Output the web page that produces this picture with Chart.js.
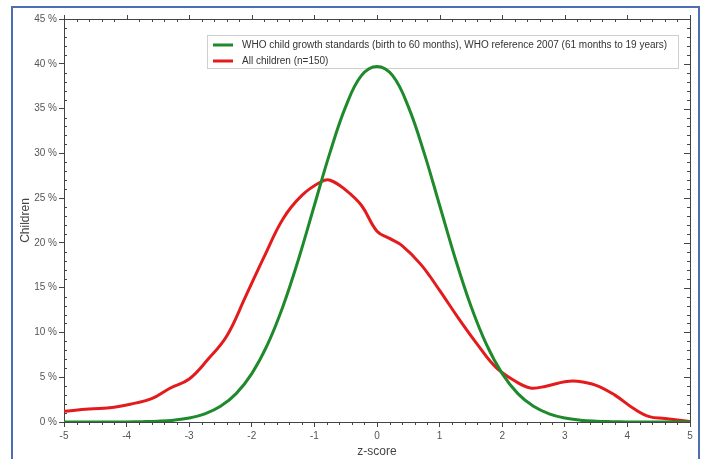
<!DOCTYPE html>
<html>
<head>
<meta charset="utf-8">
<script src="https://cdn.jsdelivr.net/npm/chart.js@4.4.0/dist/chart.umd.min.js"></script>
<style>
html, body { margin: 0; background: #fff; overflow: hidden; }
#frame { position: absolute; left: 11px; top: 6px; width: 685px; height: 480px; border: 2px solid #4d6eb3; }
#wrap { position: absolute; left: 0; top: 0; width: 706px; height: 459px; }
</style>
</head>
<body>
<div id="frame"></div>
<div id="wrap"><canvas id="chart" width="706" height="459"></canvas></div>
<script>
// Reference curve (WHO), read every 0.25 z
const whoZ = [-5, -4.75, -4.5, -4.25, -4, -3.75, -3.5, -3.25, -3, -2.75, -2.5, -2.25, -2, -1.75, -1.5, -1.25, -1, -0.75, -0.5, -0.25,
              0, 0.25, 0.5, 0.75, 1, 1.25, 1.5, 1.75, 2, 2.25, 2.5, 2.75, 3, 3.25, 3.5, 3.75, 4, 4.25, 4.5, 4.75, 5];
const whoValues = [0, 0, 0, 0, 0.01, 0.04, 0.09, 0.2, 0.44, 0.91, 1.75, 3.17, 5.4, 8.63, 12.95, 18.26, 24.2, 30.11, 35.21, 38.67,
                   39.7, 38.67, 35.21, 30.11, 24.2, 18.26, 12.95, 8.63, 5.4, 3.17, 1.75, 0.91, 0.44, 0.2, 0.09, 0.04, 0.01, 0, 0, 0, 0];

// All children (n=150)
const childZ = [-5, -4.6, -4.2, -3.9, -3.6, -3.3, -3, -2.7, -2.4, -2.1, -1.8, -1.5, -1.2, -0.9, -0.75, -0.5, -0.25,
                0, 0.2, 0.4, 0.7, 1, 1.3, 1.6, 1.9, 2.2, 2.45, 2.7, 3, 3.2, 3.5, 3.8, 4.1, 4.35, 4.6, 5];
const childValues = [1.2, 1.45, 1.65, 2.05, 2.6, 3.8, 4.8, 7.0, 9.6, 14.0, 18.5, 22.7, 25.3, 26.8, 27.0, 25.9, 24.2,
                     21.3, 20.5, 19.7, 17.6, 14.7, 11.6, 8.7, 6.1, 4.6, 3.8, 4.0, 4.5, 4.55, 4.1, 3.0, 1.5, 0.6, 0.4, 0.05];

const seriesLabels = [
    'WHO child growth standards (birth to 60 months), WHO reference 2007 (61 months to 19 years)',
    'All children (n=150)'
];
const xTicks = [-5, -4, -3, -2, -1, 0, 1, 2, 3, 4, 5];
const yTicks = [0, 5, 10, 15, 20, 25, 30, 35, 40, 45];

const toPoints = (xs, ys) => xs.map((v, i) => ({ x: v, y: ys[i] }));

// box round the plot, minor ticks, ticks on top and right, legend box
const frameTicks = {
    id: 'frameTicks',
    beforeDatasetsDraw(chart) {
        const { ctx, chartArea: a, scales: { x, y } } = chart;
        ctx.save();
        ctx.strokeStyle = '#444';
        ctx.lineWidth = 1;
        ctx.strokeRect(a.left + 0.5, a.top + 0.5, a.right - a.left, a.bottom - a.top);
        ctx.beginPath();
        for (let i = 0; i <= 50; i++) {
            const px = Math.round(x.getPixelForValue(xTicks[0] + i * 0.2)) + 0.5;
            const major = i % 5 === 0;
            ctx.moveTo(px, a.bottom);
            ctx.lineTo(px, a.bottom + (major ? 0 : 3));
            ctx.moveTo(px, a.top);
            ctx.lineTo(px, major ? a.top - 4 : a.top + 3);
        }
        for (let i = 0; i <= 45; i++) {
            const py = Math.round(y.getPixelForValue(i)) + 0.5;
            const major = i % 5 === 0;
            ctx.moveTo(a.left, py);
            ctx.lineTo(a.left + (major ? 0 : 3), py);
            ctx.moveTo(a.right, py);
            ctx.lineTo(a.right - (major ? 6 : 3), py);
        }
        ctx.stroke();

        // legend
        const box = { left: 207, top: 35, right: 678, bottom: 68 };
        ctx.strokeStyle = '#cfcfcf';
        ctx.strokeRect(box.left + 0.5, box.top + 0.5, box.right - box.left, box.bottom - box.top);
        ctx.font = '10px "Liberation Sans", Arial, sans-serif';
        ctx.textBaseline = 'middle';
        chart.data.datasets.forEach((ds, i) => {
            const ly = 45 + i * 16;
            ctx.strokeStyle = ds.borderColor;
            ctx.lineWidth = 3;
            ctx.beginPath();
            ctx.moveTo(213, ly);
            ctx.lineTo(233, ly);
            ctx.stroke();
            ctx.fillStyle = '#333';
            ctx.fillText(ds.label, 242, ly);
        });
        ctx.restore();
    }
};

const ctx = document.getElementById('chart').getContext('2d');

new Chart(ctx, {
    type: 'line',
    data: {
        datasets: [{
            label: seriesLabels[0],
            data: toPoints(whoZ, whoValues),
            borderColor: '#1f8a2c',
            borderWidth: 3,
            pointRadius: 0,
            tension: 0.4,
        }, {
            label: seriesLabels[1],
            data: toPoints(childZ, childValues),
            borderColor: '#e31b1d',
            borderWidth: 3,
            pointRadius: 0,
            tension: 0.4,
        }],
    },
    options: {
        responsive: false,
        animation: false,
        layout: { padding: { left: 12, right: 16, top: 19, bottom: 0 } },
        plugins: {
            legend: { display: false },
            tooltip: { enabled: false },
        },
        scales: {
            x: {
                type: 'linear',
                min: -5,
                max: 5,
                afterBuildTicks: (scale) => { scale.ticks = xTicks.map(v => ({ value: v })); },
                ticks: {
                    color: '#555',
                    padding: 3,
                    font: { family: '"Liberation Sans", Arial, sans-serif', size: 10 },
                    maxRotation: 0,
                },
                grid: { drawOnChartArea: false, tickLength: 5, tickColor: '#444' },
                border: { color: '#444' },
                title: {
                    display: true,
                    text: 'z-score',
                    color: '#444',
                    font: { family: '"Liberation Sans", Arial, sans-serif', size: 12 },
                    padding: { top: 0, bottom: 0 },
                },
                afterFit: (scale) => { scale.height = 37; },
            },
            y: {
                min: 0,
                max: 45,
                afterBuildTicks: (scale) => { scale.ticks = yTicks.map(v => ({ value: v })); },
                ticks: {
                    color: '#555',
                    padding: 2,
                    font: { family: '"Liberation Sans", Arial, sans-serif', size: 10 },
                    callback: (v) => v + ' %',
                },
                grid: { drawOnChartArea: false, tickLength: 5, tickColor: '#444' },
                border: { color: '#444' },
                title: {
                    display: true,
                    text: 'Children',
                    color: '#444',
                    font: { family: '"Liberation Sans", Arial, sans-serif', size: 12 },
                    padding: { top: 6, bottom: 0 },
                },
                afterFit: (scale) => { scale.width = 52; },
            },
        },
    },
    plugins: [frameTicks],
});
</script>
</body>
</html>
